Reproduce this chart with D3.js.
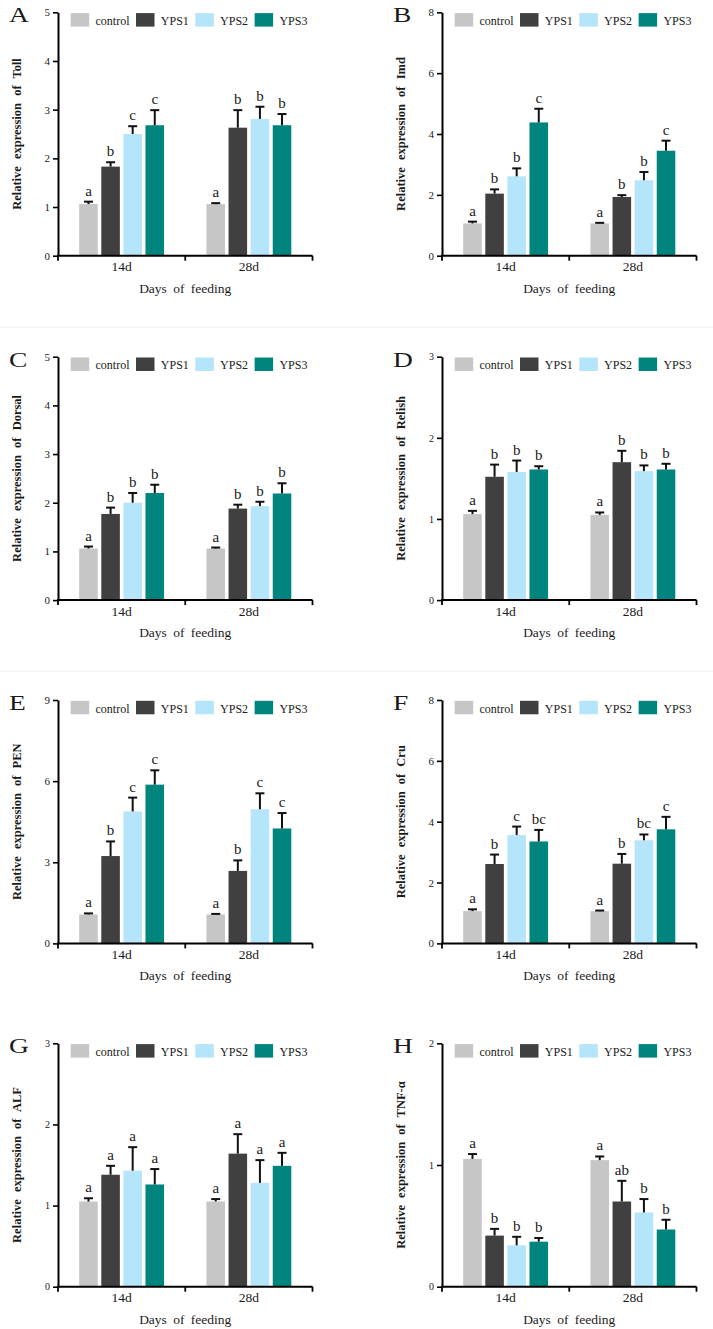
<!DOCTYPE html>
<html>
<head>
<meta charset="utf-8">
<script src="https://cdn.jsdelivr.net/npm/d3@7/dist/d3.min.js"></script>
<style>
  html, body { margin: 0; padding: 0; background: #fff; }
  svg { display: block; }
  text { font-family: "Liberation Serif", "Times New Roman", serif; fill: #1a1a1a; }
</style>
</head>
<body>
<svg id="chart" width="713" height="1329"></svg>
<script>
// ---------- data ----------
const categories = ["14d", "28d"];
const groups = ["control", "YPS1", "YPS2", "YPS3"];
const groupColors = ["#c6c6c6", "#404040", "#b5e5fa", "#00847e"];

const panelLetters = ["A", "B", "C", "D", "E", "F", "G", "H"];
const geneNames = ["Toll", "Imd", "Dorsal", "Relish", "PEN", "Cru", "ALF", "TNF-α"];
const yMaxes = [5, 8, 5, 3, 9, 8, 3, 2];
const yTickSteps = [1, 2, 1, 1, 3, 2, 1, 1];

// means [14d, 28d] x [control, YPS1, YPS2, YPS3]
const tollMean   = [[1.06, 1.83, 2.50, 2.68], [1.06, 2.63, 2.81, 2.68]];
const tollErr    = [[0.05, 0.09, 0.16, 0.31], [0.02, 0.36, 0.25, 0.23]];
const tollSig    = [["a", "b", "c", "c"], ["a", "b", "b", "b"]];

const imdMean    = [[1.06, 2.04, 2.61, 4.38], [1.06, 1.93, 2.48, 3.45]];
const imdErr     = [[0.06, 0.14, 0.26, 0.45], [0.02, 0.06, 0.27, 0.33]];
const imdSig     = [["a", "b", "b", "c"], ["a", "b", "b", "c"]];

const dorsalMean = [[1.06, 1.77, 2.00, 2.20], [1.06, 1.88, 1.93, 2.19]];
const dorsalErr  = [[0.04, 0.13, 0.20, 0.17], [0.02, 0.08, 0.09, 0.21]];
const dorsalSig  = [["a", "b", "b", "b"], ["a", "b", "b", "b"]];

const relishMean = [[1.06, 1.52, 1.58, 1.61], [1.05, 1.70, 1.59, 1.61]];
const relishErr  = [[0.04, 0.15, 0.14, 0.04], [0.03, 0.14, 0.07, 0.07]];
const relishSig  = [["a", "b", "b", "b"], ["a", "b", "b", "b"]];

const penMean    = [[1.07, 3.23, 4.88, 5.87], [1.07, 2.68, 4.96, 4.25]];
const penErr     = [[0.04, 0.54, 0.51, 0.53], [0.02, 0.39, 0.59, 0.57]];
const penSig     = [["a", "b", "c", "c"], ["a", "b", "c", "c"]];

const cruMean    = [[1.06, 2.61, 3.56, 3.35], [1.06, 2.62, 3.39, 3.75]];
const cruErr     = [[0.06, 0.31, 0.28, 0.38], [0.02, 0.32, 0.19, 0.41]];
const cruSig     = [["a", "b", "c", "bc"], ["a", "b", "bc", "c"]];

const alfMean    = [[1.05, 1.38, 1.43, 1.26], [1.05, 1.64, 1.28, 1.49]];
const alfErr     = [[0.04, 0.11, 0.29, 0.19], [0.03, 0.24, 0.28, 0.16]];
const alfSig     = [["a", "a", "a", "a"], ["a", "a", "a", "a"]];

const tnfMean    = [[1.05, 0.42, 0.34, 0.37], [1.04, 0.70, 0.61, 0.47]];
const tnfErr     = [[0.04, 0.055, 0.07, 0.03], [0.03, 0.17, 0.11, 0.08]];
const tnfSig     = [["a", "b", "b", "b"], ["a", "ab", "b", "b"]];

const allMeans = [tollMean, imdMean, dorsalMean, relishMean, penMean, cruMean, alfMean, tnfMean];
const allErrs  = [tollErr, imdErr, dorsalErr, relishErr, penErr, cruErr, alfErr, tnfErr];
const allSigs  = [tollSig, imdSig, dorsalSig, relishSig, penSig, cruSig, alfSig, tnfSig];

// ---------- layout ----------
const svg = d3.select("#chart");
const colX = [58, 442];
const plotW = 254.5;
const rowTop = [12.3, 356.7, 700, 1043.3];
const plotH = 243.4;

// faint separators
[327, 671].forEach(yy => {
  svg.append("line").attr("x1", 0).attr("x2", 713).attr("y1", yy).attr("y2", yy)
    .attr("stroke", "#ededed").attr("stroke-width", 1);
});

panelLetters.forEach((letter, i) => {
  const x0 = colX[i % 2];
  const top = rowTop[Math.floor(i / 2)];
  const bottom = top + plotH;
  const g = svg.append("g");

  const x = d3.scaleBand().domain(categories).range([x0, x0 + plotW]).padding(0);
  const inner = d3.scaleBand().domain(groups).range([0, 88.4]).paddingInner(0.16).paddingOuter(0.08);
  const y = d3.scaleLinear().domain([0, yMaxes[i]]).range([bottom, top]);
  const ticks = d3.range(0, yMaxes[i] + 1e-9, yTickSteps[i]);

  // bars
  const rows = [];
  categories.forEach((c, ci) => {
    groups.forEach((gname, gi) => {
      rows.push({ c, g: gname, gi, m: allMeans[i][ci][gi], e: allErrs[i][ci][gi], s: allSigs[i][ci][gi] });
    });
  });
  const bx = d => x(d.c) + x.bandwidth() / 2 - 44.2 + inner(d.g);
  const cx = d => bx(d) + inner.bandwidth() / 2;

  g.selectAll("rect.bar").data(rows).join("rect")
    .attr("class", "bar")
    .attr("x", bx)
    .attr("width", inner.bandwidth())
    .attr("y", d => y(d.m))
    .attr("height", d => bottom - y(d.m))
    .attr("fill", d => groupColors[d.gi]);

  // error bars (upper only)
  g.selectAll("line.ev").data(rows).join("line")
    .attr("class", "ev")
    .attr("x1", cx).attr("x2", cx)
    .attr("y1", d => y(d.m)).attr("y2", d => y(d.m + d.e))
    .attr("stroke", "#111").attr("stroke-width", 2);
  g.selectAll("line.ec").data(rows).join("line")
    .attr("class", "ec")
    .attr("x1", d => cx(d) - 4.5).attr("x2", d => cx(d) + 4.5)
    .attr("y1", d => y(d.m + d.e)).attr("y2", d => y(d.m + d.e))
    .attr("stroke", "#111").attr("stroke-width", 2);

  // significance letters
  g.selectAll("text.sig").data(rows).join("text")
    .attr("class", "sig")
    .attr("x", cx)
    .attr("y", d => y(d.m + d.e) - 6)
    .attr("text-anchor", "middle")
    .attr("font-size", 15)
    .text(d => d.s);

  // y axis
  const yAxis = d3.axisLeft(y).tickValues(ticks).tickFormat(d3.format("d")).tickSize(5).tickSizeOuter(0).tickPadding(3);
  const ya = g.append("g").attr("transform", `translate(${x0},0)`).call(yAxis);
  ya.select(".domain").attr("stroke", "#000").attr("stroke-width", 2);
  ya.selectAll(".tick line").attr("stroke", "#000").attr("stroke-width", 1.6);
  ya.selectAll(".tick text").attr("font-family", "Liberation Serif, serif").attr("font-size", (i === 3 || i === 7 || i === 6) ? 10 : 11).attr("fill", "#222");

  // x axis: labels
  const xAxis = d3.axisBottom(x).tickSize(0).tickPadding(6);
  const xa = g.append("g").attr("transform", `translate(0,${bottom})`).call(xAxis);
  xa.select(".domain").remove();
  xa.selectAll(".tick text").attr("font-family", "Liberation Serif, serif").attr("font-size", 13.5).attr("fill", "#222");
  // x axis line with boundary ticks
  const bounds = [x.range()[0], x(categories[1]), x.range()[1]];
  g.append("line").attr("x1", x0 - 1).attr("x2", x.range()[1]).attr("y1", bottom).attr("y2", bottom)
    .attr("stroke", "#000").attr("stroke-width", 2);
  g.selectAll("line.xt").data(bounds).join("line").attr("class", "xt")
    .attr("x1", d => d).attr("x2", d => d).attr("y1", bottom).attr("y2", bottom + 5)
    .attr("stroke", "#000").attr("stroke-width", 1.8);

  // x title
  g.append("text")
    .attr("x", x0 + plotW / 2).attr("y", bottom + 37)
    .attr("text-anchor", "middle").attr("font-size", 13.5)
    .attr("word-spacing", 3).attr("fill", "#222")
    .text("Days of feeding");

  // y title
  g.append("text")
    .attr("transform", `translate(${x0 - 37},${(top + bottom) / 2}) rotate(-90)`)
    .attr("text-anchor", "middle").attr("font-size", 12.5).attr("font-weight", "bold")
    .attr("word-spacing", 4).attr("fill", "#111")
    .text("Relative expression of " + geneNames[i]);

  // panel letter
  g.append("text")
    .attr("transform", `translate(${x0 - 49},${top + 10}) scale(1.25,1)`)
    .attr("font-size", 22).attr("fill", "#111")
    .text(letter);

  // legend
  let lx = x0 + 12.7;
  groups.forEach((gname, gi) => {
    g.append("rect").attr("x", lx).attr("y", top + 0.8).attr("width", 18.5).attr("height", 13.5)
      .attr("fill", groupColors[gi]);
    const t = g.append("text").attr("x", lx + 18.5 + 6.3).attr("y", top + 12.6)
      .attr("font-size", 12).attr("fill", "#222").text(gname);
    lx = lx + 18.5 + 6.3 + t.node().getComputedTextLength() + 6.5;
  });
});
</script>
</body>
</html>
